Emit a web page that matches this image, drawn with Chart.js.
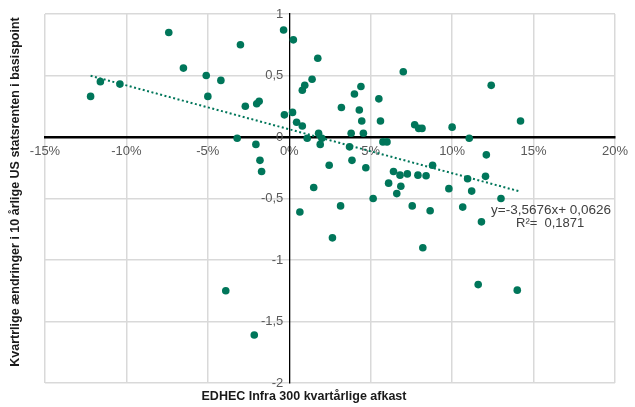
<!DOCTYPE html>
<html>
<head>
<meta charset="utf-8">
<script src="https://cdn.jsdelivr.net/npm/chart.js@4/dist/chart.umd.min.js"></script>
<style>
  html, body { margin: 0; padding: 0; background: #ffffff; }
  canvas { display: block; }
</style>
</head>
<body>
<canvas id="chart" width="635" height="407"></canvas>
<script>
// Quarterly EDHEC Infra 300 return (%) against the quarterly change in the 10-year US Treasury yield
const infraReturn = [
  -12.2, -11.6, -10.4, -7.4, -6.5, -5.1, -5.0, -4.2, -3.0, -2.7,
  -2.0, -1.85, -0.35, 0.25, -0.3, 0.2, 0.45, 0.8, 0.8, 0.95,
  1.4, 1.75, -3.2, -2.05, -1.8, -1.7, 1.1, 1.5, 4.4, 4.0,
  5.5, 3.2, 4.3, 4.45, 5.6, 1.8, 3.8, 4.55, 2.0, 5.75,
  6.0, 1.9, 3.7, 3.85, 2.45, 4.7, 3.15, 5.15, 0.65, 6.1,
  7.0, 7.7, 7.95, 8.15, 10.0, 12.4, 14.2, 11.05, 8.8, 6.4,
  6.8, 7.25, 7.9, 8.4, 12.1, 10.95, 12.05, 6.85, 6.6, 9.8,
  11.2, 13.0, 7.55, 8.65, 10.65, 11.8, 2.65, 8.2, 11.6, 14.0,
  -3.9, -2.15
];
const yieldChange = [
  0.33, 0.45, 0.43, 0.85, 0.56, 0.50, 0.33, 0.46, 0.75, 0.25,
  0.27, 0.29, 0.87, 0.79, 0.18, 0.20, 0.12, 0.09, 0.38, 0.42,
  0.47, 0.64, -0.01, -0.06, -0.19, -0.28, -0.01, -0.41, 0.41, 0.35,
  0.31, 0.24, 0.22, 0.13, 0.13, 0.03, 0.03, 0.03, -0.01, -0.04,
  -0.04, -0.06, -0.08, -0.19, -0.23, -0.25, -0.56, -0.50, -0.61, -0.375,
  0.53, 0.10, 0.07, 0.07, 0.08, 0.42, 0.13, -0.01, -0.23, -0.28,
  -0.31, -0.30, -0.31, -0.315, -0.145, -0.34, -0.32, -0.40, -0.46, -0.42,
  -0.44, -0.50, -0.56, -0.60, -0.57, -0.69, -0.82, -0.90, -1.20, -1.245,
  -1.25, -1.61
];

const xTickValues = [-15, -10, -5, 0, 5, 10, 15, 20];
const yTickValues = [-2, -1.5, -1, -0.5, 0, 0.5, 1];

// Linear trend fitted on returns expressed as fractions
const trendSlope = -3.5676;
const trendIntercept = 0.0626;
const rSquared = 0.1871;

const xTitle = 'EDHEC Infra 300 kvartårlige afkast';
const yTitle = 'Kvartrlige ændringer i 10 årlige US statsrenten i basispoint';

const GREEN = '#00765A';
const GRID = '#d9d9d9';
const TICK_TEXT = '#595959';
const FONT = '"Liberation Sans", Arial, sans-serif';

const points = infraReturn.map((x, i) => ({ x: x, y: yieldChange[i] }));
const xMin = Math.min(...infraReturn);
const xMax = Math.max(...infraReturn);
const trendAt = x => trendSlope * (x / 100) + trendIntercept;
const trendPoints = [{ x: xMin, y: trendAt(xMin) }, { x: xMax, y: trendAt(xMax) }];

const comma = v => String(v).replace('.', ',');
const eqLine1 = 'y=' + comma(trendSlope) + 'x+ ' + comma(trendIntercept.toFixed(4));
const eqLine2 = 'R²=  ' + comma(rSquared.toFixed(4));

// Y tick labels sit just left of the vertical zero axis
const yAxisLabels = {
  id: 'yAxisLabels',
  afterDraw(chart) {
    const ctx = chart.ctx;
    const ys = chart.scales.y;
    const x0 = chart.scales.x.getPixelForValue(0);
    ctx.save();
    ctx.fillStyle = TICK_TEXT;
    ctx.font = '13px ' + FONT;
    ctx.textAlign = 'right';
    ctx.textBaseline = 'middle';
    yTickValues.forEach(v => ctx.fillText(comma(v), x0 - 6, ys.getPixelForValue(v)));
    ctx.restore();
  }
};

// Axis titles and regression equation
const annotations = {
  id: 'annotations',
  afterDraw(chart) {
    const ctx = chart.ctx;
    ctx.save();
    ctx.fillStyle = '#1a1a1a';
    ctx.font = 'bold 12.5px "Liberation Sans Narrow", "Liberation Sans", Arial, sans-serif';
    ctx.textAlign = 'center';
    ctx.textBaseline = 'middle';
    ctx.fillText(xTitle, 304, 397);
    ctx.translate(16, 192);
    ctx.rotate(-Math.PI / 2);
    ctx.fillText(yTitle, 0, 0);
    ctx.restore();

    ctx.save();
    ctx.fillStyle = '#404040';
    ctx.font = '13.5px ' + FONT;
    ctx.textBaseline = 'middle';
    ctx.textAlign = 'left';
    ctx.fillText(eqLine1, 491, 210);
    ctx.font = '13px ' + FONT;
    ctx.fillText(eqLine2, 516, 223);
    ctx.restore();
  }
};

new Chart(document.getElementById('chart'), {
  type: 'scatter',
  data: {
    datasets: [
      {
        label: 'Kvartaler',
        data: points,
        backgroundColor: GREEN,
        borderColor: GREEN,
        pointRadius: 3.8,
        pointHoverRadius: 3.8,
        borderWidth: 0
      },
      {
        label: 'Lineær tendens',
        type: 'line',
        data: trendPoints,
        borderColor: GREEN,
        borderWidth: 2,
        borderDash: [2, 2.5],
        pointRadius: 0,
        fill: false
      }
    ]
  },
  options: {
    responsive: false,
    animation: false,
    events: [],
    layout: { padding: { left: 45, right: 14, top: 14, bottom: 24 } },
    plugins: {
      legend: { display: false },
      tooltip: { enabled: false }
    },
    scales: {
      x: {
        type: 'linear',
        position: { y: 0 },
        min: -15,
        max: 20,
        afterBuildTicks: s => { s.ticks = xTickValues.map(v => ({ value: v })); },
        afterFit: s => { s.height = 0; },
        grid: {
          color: c => (c.tick && c.tick.value === 0 ? 'rgba(0,0,0,0)' : GRID),
          lineWidth: 1.5,
          drawTicks: false
        },
        border: { color: '#000000', width: 2.5 },
        ticks: {
          padding: 7,
          color: TICK_TEXT,
          font: { family: FONT, size: 13 },
          maxRotation: 0,
          callback: v => v + '%'
        }
      },
      y: {
        type: 'linear',
        position: { x: 0 },
        min: -2,
        max: 1,
        afterBuildTicks: s => { s.ticks = yTickValues.map(v => ({ value: v })); },
        afterFit: s => { s.width = 0; },
        grid: {
          color: c => (c.tick && c.tick.value === 0 ? 'rgba(0,0,0,0)' : GRID),
          lineWidth: 1.5,
          drawTicks: false
        },
        border: { color: '#000000', width: 1.3 },
        ticks: { display: false }
      }
    }
  },
  plugins: [yAxisLabels, annotations]
});
</script>
</body>
</html>
